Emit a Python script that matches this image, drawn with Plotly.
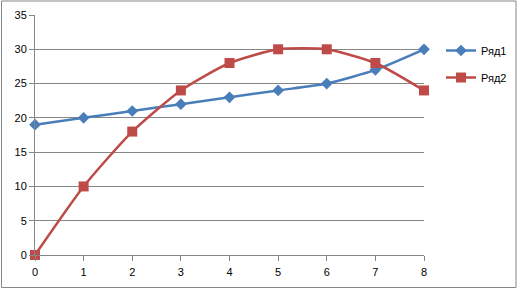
import plotly.graph_objects as go

x_vals = [0, 1, 2, 3, 4, 5, 6, 7, 8]
series1 = [19, 20, 21, 22, 23, 24, 25, 27, 30]
series2 = [0, 10, 18, 24, 28, 30, 30, 28, 24]
names = ["Ряд1", "Ряд2"]
y_ticks = [0, 5, 10, 15, 20, 25, 30, 35]

fig = go.Figure()
fig.add_trace(go.Scatter(
    x=x_vals, y=series1, name=names[0], mode="lines+markers",
    line=dict(color="#4A7EBB", width=2.5, shape="spline", smoothing=0.6),
    marker=dict(symbol="diamond", size=9, color="#4A7EBB"),
    legendgroup="a", cliponaxis=False))
fig.add_trace(go.Scatter(
    x=x_vals, y=series2, name=names[1], mode="lines+markers",
    line=dict(color="#BE4B48", width=2.5, shape="spline", smoothing=0.6),
    marker=dict(symbol="square", size=10, color="#BE4B48"),
    legendgroup="b", cliponaxis=False))

W, H = 518, 289
l, r, t, b = 35, 94, 15, 34
pw, ph = W - l - r, H - t - b

def px_x(p):
    return (p - l) / pw

def px_y(p):
    return (H - b - p) / ph

fig.update_layout(
    width=W, height=H,
    margin=dict(l=l, r=r, t=t, b=b, autoexpand=False),
    paper_bgcolor="white", plot_bgcolor="white",
    font=dict(family="Liberation Sans", size=11, color="black"),
    showlegend=True,
    legend=dict(x=px_x(441), y=px_y(36), xanchor="left", yanchor="top",
                bgcolor="rgba(0,0,0,0)", tracegroupgap=8,
                font=dict(size=11)),
    xaxis=dict(range=[0, 8], tickvals=x_vals, showgrid=False,
               showline=True, linecolor="#868686", linewidth=1,
               ticks="outside", ticklen=5, tickcolor="#868686",
               ticklabelstandoff=2,
               zeroline=False, fixedrange=True),
    yaxis=dict(range=[0, 35], tickvals=y_ticks, showgrid=True,
               gridcolor="#868686", gridwidth=1,
               showline=True, linecolor="#868686", linewidth=1,
               ticks="outside", ticklen=5, tickcolor="#868686",
               zeroline=False, fixedrange=True),
    shapes=[dict(type="rect", xref="paper", yref="paper",
                 x0=px_x(1.5), x1=px_x(516), y0=px_y(287.5), y1=px_y(1),
                 line=dict(color="#868686", width=1), fillcolor="rgba(0,0,0,0)",
                 layer="below")],
)

fig.write_html("out.html")
